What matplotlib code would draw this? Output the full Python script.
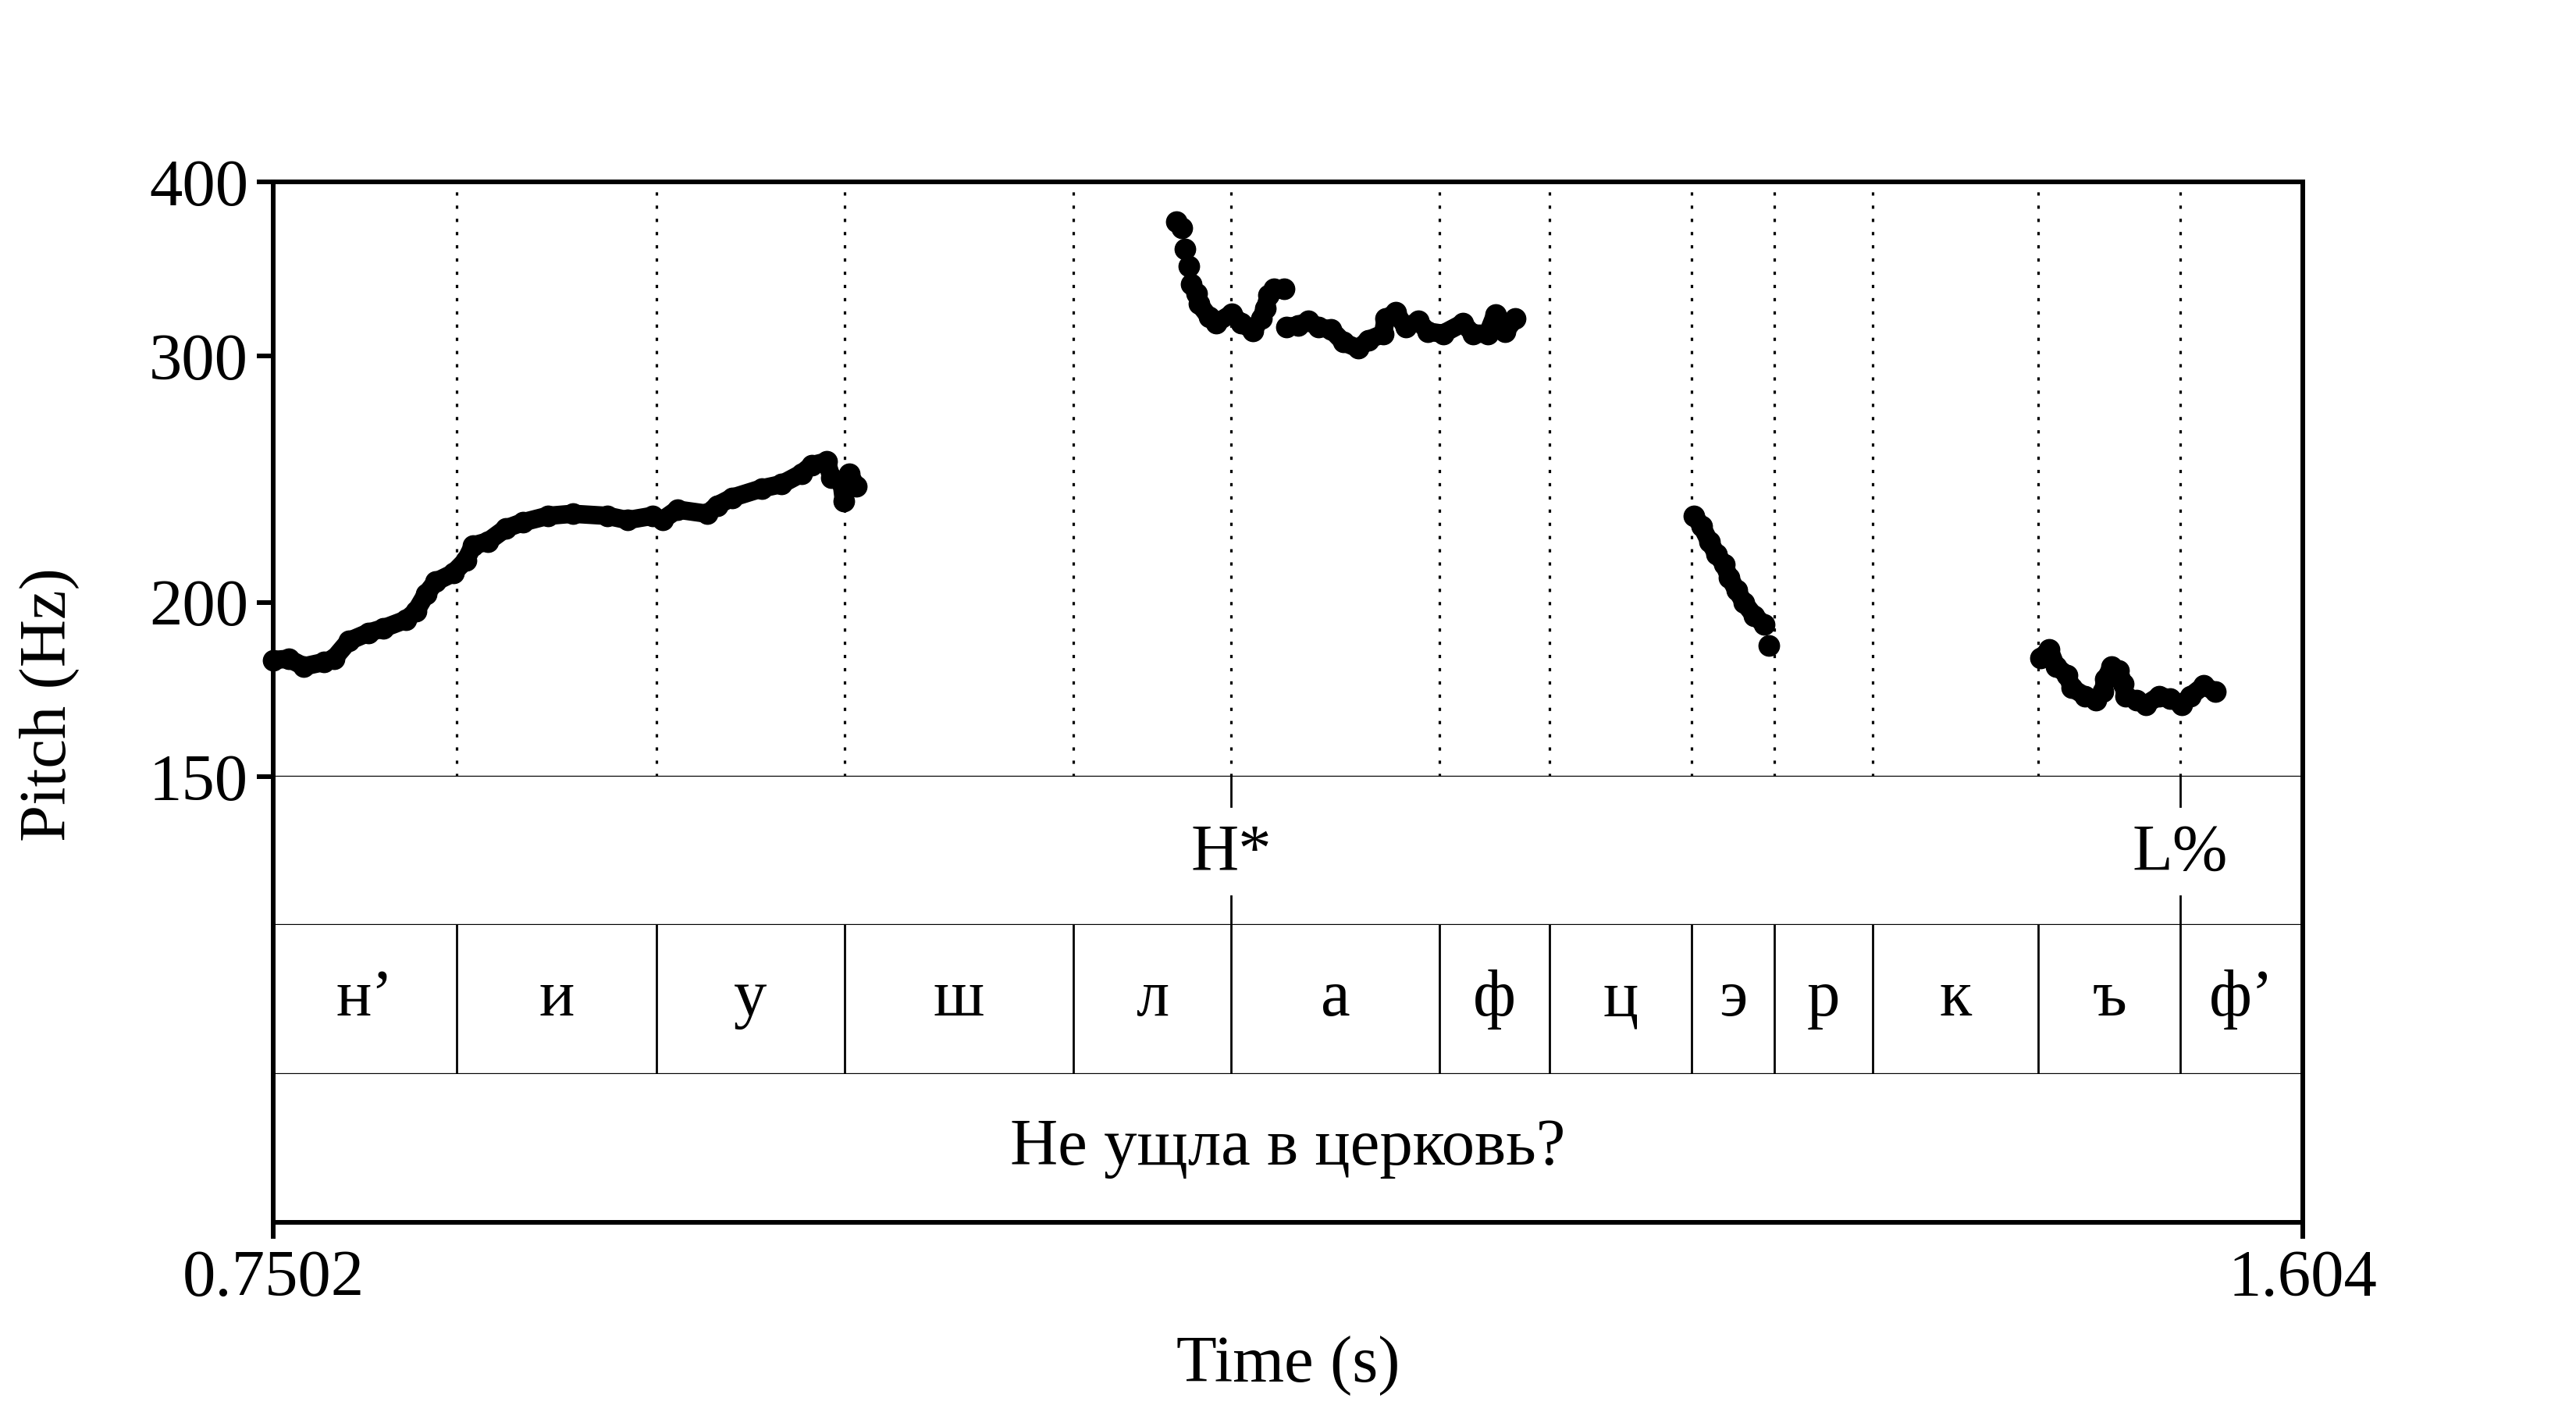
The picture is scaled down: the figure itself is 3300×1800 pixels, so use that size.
import matplotlib
matplotlib.use('Agg')
import matplotlib.pyplot as plt
import matplotlib.ticker as mticker

plt.rcParams['font.family'] = ['Liberation Serif', 'DejaVu Serif']

# time range of the excerpt (s)
t_start = 0.7502
t_end = 1.604

# pitch track, split into voiced runs
run1_t = [0.7502, 0.7568, 0.7631, 0.7715, 0.7757, 0.7820, 0.7903, 0.7966, 0.8060, 0.8102,
          0.8144, 0.8186, 0.8259, 0.8312, 0.8343, 0.8406, 0.8479, 0.8553, 0.8657, 0.8762,
          0.8908, 0.8992, 0.9097, 0.9139, 0.9202, 0.9328, 0.9369, 0.9432, 0.9558, 0.9641,
          0.9725, 0.9767, 0.9830, 0.9851, 0.9893, 0.9903, 0.9924, 0.9956]
run1_hz = [181.8, 182.2, 179.9, 181.2, 182.2, 187.6, 190.2, 191.6, 194.3, 197.0,
           202.6, 206.9, 209.8, 214.3, 219.6, 221.1, 225.8, 228.2, 230.6, 231.4,
           230.6, 229.0, 230.6, 229.0, 233.0, 231.4, 234.6, 237.6, 241.3, 243.0,
           247.3, 250.7, 252.2, 245.5, 243.8, 236.3, 247.3, 242.1]

run2_t = [1.1302, 1.1323]
run2_hz = [374.8, 370.9]
run3_t = [1.1338]
run3_hz = [358.2]
run4_t = [1.1355]
run4_hz = [348.3]
run5_t = [1.1365, 1.1386, 1.1397, 1.1438, 1.1470, 1.1533, 1.1575, 1.1623, 1.1658, 1.1675,
          1.1690, 1.1711, 1.1753]
run5_hz = [338.0, 332.8, 327.1, 320.3, 316.9, 321.8, 316.9, 313.0, 319.2, 324.8,
           331.7, 335.2, 335.2]

run6_t = [1.1763, 1.1815, 1.1857, 1.1899, 1.1952, 1.2004, 1.2067, 1.2109, 1.2171, 1.2182,
          1.2224, 1.2266, 1.2318, 1.2360, 1.2423, 1.2507, 1.2548, 1.2611, 1.2643, 1.2685,
          1.2726]
run6_hz = [314.7, 315.8, 318.0, 314.7, 313.6, 307.1, 303.9, 308.2, 311.4, 319.2,
           322.5, 314.7, 318.0, 312.5, 311.4, 316.9, 311.4, 311.4, 321.4, 312.5,
           319.2]

run7_t = [1.3480, 1.3512, 1.3543, 1.3574, 1.3606, 1.3627, 1.3658, 1.3690, 1.3732, 1.3773]
run7_hz = [230.6, 226.6, 221.1, 216.5, 212.8, 208.4, 204.0, 199.8, 195.6, 192.9]
run8_t = [1.3794]
run8_hz = [186.3]

run9_t = [1.4936, 1.4974, 1.5002, 1.5049, 1.5068, 1.5124, 1.5171, 1.5200, 1.5209, 1.5237,
          1.5266, 1.5285, 1.5294, 1.5341, 1.5379, 1.5435, 1.5483, 1.5530, 1.5567, 1.5624,
          1.5671]
run9_hz = [182.4, 185.0, 179.9, 177.4, 173.7, 171.3, 170.1, 172.5, 176.2, 179.9,
           178.7, 174.9, 171.3, 170.1, 168.9, 171.3, 170.7, 168.9, 171.3, 174.3,
           172.5]

# tiers
tone_times = [1.1531, 1.5524]
tone_labels = ['H*', 'L%']
seg_bounds = [0.8274, 0.9114, 0.9906, 1.0868, 1.1531, 1.2408, 1.2871, 1.3469,
              1.3817, 1.4231, 1.4927, 1.5524]
seg_labels = ['н\u2019', 'и', 'у', 'ш', 'л', 'а', 'ф', 'ц', 'э', 'р', 'к', 'ъ', 'ф\u2019']
sentence = 'Не ущла в церковь?'

y_ticks = [150, 200, 300, 400]

FS = 61
THICK = 4.3
THIN = 2.4
W_PX, H_PX = 3300, 1800
fig = plt.figure(figsize=(33, 18), dpi=100)

left = 350 / W_PX
width = 2600 / W_PX


def box(top_px, bot_px):
    return [left, 1 - bot_px / H_PX, width, (bot_px - top_px) / H_PX]


ax_p = fig.add_axes(box(233, 995))
ax_t = fig.add_axes(box(995, 1185))
ax_s = fig.add_axes(box(1185, 1376))
ax_w = fig.add_axes(box(1376, 1566))

# pitch panel
ax_p.set_yscale('log')
ax_p.set_ylim(150, 400)
ax_p.set_xlim(t_start, t_end)
ax_p.set_yticks(y_ticks, labels=[str(v) for v in y_ticks])
ax_p.yaxis.set_minor_locator(mticker.NullLocator())
ax_p.set_xticks([])
ax_p.tick_params(axis='y', direction='out', length=15, width=THICK, labelsize=FS, pad=8)

for b in seg_bounds:
    ax_p.axvline(b, color='black', lw=2.3, linestyle=(0, (1.3, 4.0)))

runs = [(run1_t, run1_hz), (run2_t, run2_hz), (run3_t, run3_hz), (run4_t, run4_hz),
        (run5_t, run5_hz), (run6_t, run6_hz), (run7_t, run7_hz), (run8_t, run8_hz),
        (run9_t, run9_hz)]
for t, hz in runs:
    ax_p.plot(t, hz, color='black', lw=17, marker='o', ms=19,
              solid_capstyle='round', solid_joinstyle='round', clip_on=False, zorder=3)

for side in ['top', 'left', 'right']:
    ax_p.spines[side].set_linewidth(THICK)
ax_p.spines['bottom'].set_linewidth(THIN)

# tiers
for ax in [ax_t, ax_s, ax_w]:
    ax.set_xlim(t_start, t_end)
    ax.set_ylim(0, 1)
    ax.set_yticks([])
    ax.set_xticks([])
    ax.spines['top'].set_visible(False)
    ax.spines['left'].set_linewidth(THICK)
    ax.spines['right'].set_linewidth(THICK)
    ax.spines['bottom'].set_linewidth(THIN)

for t, lab in zip(tone_times, tone_labels):
    ax_t.axvline(t, ymin=0.8, ymax=1, color='black', lw=2.0)
    ax_t.axvline(t, ymin=0, ymax=0.195, color='black', lw=2.0)
    ax_t.text(t, 0.48, lab, ha='center', va='center', fontsize=FS)

edges = [t_start] + seg_bounds + [t_end]
for b in seg_bounds:
    ax_s.axvline(b, color='black', lw=2.0)
for i, lab in enumerate(seg_labels):
    ax_s.text((edges[i] + edges[i + 1]) / 2, 0.5, lab, ha='center', va='center', fontsize=FS)

ax_w.text((t_start + t_end) / 2, 0.5, sentence, ha='center', va='center', fontsize=FS)
ax_w.spines['bottom'].set_linewidth(THICK)
ax_w.set_xticks([t_start, t_end], labels=['0.7502', '1.604'])
ax_w.tick_params(axis='x', direction='out', length=15, width=THICK, labelsize=FS, pad=10)

fig.text(63 / W_PX, 1 - 903 / H_PX, 'Pitch (Hz)', rotation=90, ha='center', va='center', fontsize=FS)
fig.text(1650 / W_PX, 1 - 1749 / H_PX, 'Time (s)', ha='center', va='center', fontsize=FS)

fig.savefig('out.png', dpi=100, facecolor='white')
